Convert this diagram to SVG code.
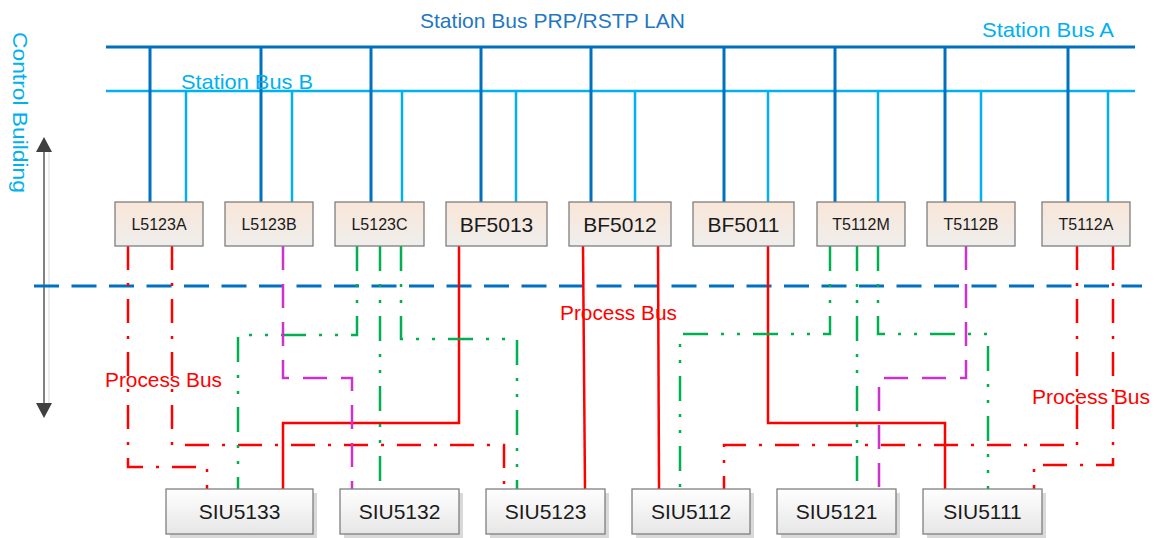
<svg xmlns="http://www.w3.org/2000/svg" width="1158" height="538" viewBox="0 0 1158 538">
<style>
.t{font-family:"Liberation Sans",Arial,sans-serif}
.busA{stroke:#0070C0;stroke-width:3;fill:none}
.busB{stroke:#00B0F0;stroke-width:2.5;fill:none}
.lan{stroke:#0070C0;stroke-width:3;fill:none;stroke-dasharray:25 12.5}
.rdd{stroke:#FF0000;stroke-width:2.5;fill:none;stroke-dasharray:24 13 3 13}
.rs{stroke:#FF0000;stroke-width:2.5;fill:none}
.gdd{stroke:#00B050;stroke-width:2.5;fill:none;stroke-dasharray:25 13 3 13 3 13}
.md{stroke:#CC33CC;stroke-width:2.5;fill:none;stroke-dasharray:24 14}
.ied rect{fill:url(#gI);stroke:#7F7F7F;stroke-width:1.3}
.siu rect.b{fill:url(#gS);stroke:#7F7F7F;stroke-width:1.3}
.siu rect.sh{fill:#D9D9D9;stroke:none}
.lbl{fill:#1A1A1A;text-anchor:middle}
.pb{fill:#FF0000;font-size:20px}
</style>
<defs>
<linearGradient id="gI" x1="0" y1="0" x2="0" y2="1"><stop offset="0" stop-color="#F9E6D8"/><stop offset="1" stop-color="#EFEEEC"/></linearGradient>
<linearGradient id="gS" x1="0" y1="0" x2="0" y2="1"><stop offset="0" stop-color="#FFFFFF"/><stop offset="1" stop-color="#E6E6E6"/></linearGradient>
</defs>

<!-- labels -->
<text class="t" x="420" y="28" font-size="21" fill="#1F78C1" textLength="265" lengthAdjust="spacingAndGlyphs">Station Bus PRP/RSTP LAN</text>
<text class="t" x="982" y="37" font-size="21" fill="#00B0F0" textLength="132" lengthAdjust="spacingAndGlyphs">Station Bus A</text>
<text class="t" transform="translate(13,32) rotate(90)" x="0" y="0" font-size="21" fill="#00B0F0" textLength="161" lengthAdjust="spacingAndGlyphs">Control Building</text>

<!-- vertical arrow -->
<g id="arrow">
<line x1="49" y1="150" x2="49" y2="405" stroke="#E6E6E6" stroke-width="1.5"/>
<line x1="44" y1="150" x2="44" y2="405" stroke="#595959" stroke-width="1.5"/>
<polygon points="44,137 36,152 52,152" fill="#404040"/>
<polygon points="44,418 36,403 52,403" fill="#404040"/>
</g>

<g id="connectors">
<!-- station buses -->
<line class="busA" x1="106" y1="47" x2="1135" y2="47"/>
<line class="busB" x1="106" y1="91" x2="1135" y2="91"/>
<path class="busA" d="M150 47V202M261 47V202M371 47V202M481 47V202M591 47V202M724 47V202M835 47V202M945 47V202M1068 47V202"/>
<path class="busB" d="M186 91V202M292 91V202M402 91V202M516 91V202M635 91V202M768 91V202M878 91V202M981 91V202M1108 91V202"/>
<!-- process bus dashed -->
<line class="lan" x1="34" y1="286" x2="1142" y2="286"/>
<!-- red dash-dot -->
<polyline class="rdd" points="128,246 128,467 207,467 207,489"/>
<polyline class="rdd" points="172,246 172,445 504,445 504,489"/>
<polyline class="rdd" points="1077,246 1077,445 724,445 724,489"/>
<polyline class="rdd" points="1113,246 1113,465 1034,465 1034,489"/>
<!-- red solid -->
<polyline class="rs" points="459,246 459,423 283,423 283,489"/>
<line class="rs" x1="583" y1="246" x2="585" y2="489"/>
<line class="rs" x1="658" y1="246" x2="659" y2="489"/>
<polyline class="rs" points="768,246 768,423 945,423 945,489"/>
<!-- green dash-dot-dot -->
<polyline class="gdd" points="357,246 357,335 238,335 238,489"/>
<line class="gdd" x1="380" y1="246" x2="380" y2="489"/>
<polyline class="gdd" points="401,246 401,339 517,339 517,489"/>
<polyline class="gdd" points="830,246 830,334 680,334 680,489"/>
<line class="gdd" x1="857" y1="246" x2="857" y2="489"/>
<polyline class="gdd" points="878,246 878,334 988,334 988,489"/>
<!-- magenta dashed -->
<polyline class="md" points="283,246 283,378 352,378 352,489"/>
<polyline class="md" points="966,246 966,378 879,378 879,489"/>
</g>

<text class="t" x="181" y="89" font-size="21" fill="#00B0F0" textLength="132" lengthAdjust="spacingAndGlyphs">Station Bus B</text>
<text class="t pb" x="105" y="387" textLength="117" lengthAdjust="spacingAndGlyphs">Process Bus</text>
<text class="t pb" x="560" y="320" textLength="117" lengthAdjust="spacingAndGlyphs">Process Bus</text>
<text class="t pb" x="1032" y="404" textLength="118" lengthAdjust="spacingAndGlyphs">Process Bus</text>

<!-- IED nodes -->
<g id="L5123A" class="ied"><rect x="115" y="202" width="88" height="44"/><text class="t lbl" x="159" y="230" font-size="16">L5123A</text></g>
<g id="L5123B" class="ied"><rect x="225" y="202" width="88" height="44"/><text class="t lbl" x="269" y="230" font-size="16">L5123B</text></g>
<g id="L5123C" class="ied"><rect x="335" y="202" width="89" height="44"/><text class="t lbl" x="379.5" y="230" font-size="16">L5123C</text></g>
<g id="BF5013" class="ied"><rect x="446" y="202" width="101" height="44"/><text class="t lbl" x="496.5" y="231.5" font-size="21">BF5013</text></g>
<g id="BF5012" class="ied"><rect x="569" y="202" width="102" height="44"/><text class="t lbl" x="620" y="231.5" font-size="21">BF5012</text></g>
<g id="BF5011" class="ied"><rect x="693" y="202" width="101" height="44"/><text class="t lbl" x="743.5" y="231.5" font-size="21">BF5011</text></g>
<g id="T5112M" class="ied"><rect x="817" y="202" width="88" height="44"/><text class="t lbl" x="861" y="230" font-size="16">T5112M</text></g>
<g id="T5112B" class="ied"><rect x="927" y="202" width="88" height="44"/><text class="t lbl" x="971" y="230" font-size="16">T5112B</text></g>
<g id="T5112A" class="ied"><rect x="1042" y="202" width="88" height="44"/><text class="t lbl" x="1086" y="230" font-size="16">T5112A</text></g>

<!-- SIU nodes -->
<g id="SIU5133" class="siu"><rect class="sh" x="170" y="493" width="147" height="45"/><rect class="b" x="166" y="489" width="147" height="45"/><text class="t lbl" x="239.5" y="519" font-size="21">SIU5133</text></g>
<g id="SIU5132" class="siu"><rect class="sh" x="344" y="493" width="119" height="45"/><rect class="b" x="340" y="489" width="119" height="45"/><text class="t lbl" x="399.5" y="519" font-size="21">SIU5132</text></g>
<g id="SIU5123" class="siu"><rect class="sh" x="490" y="493" width="119" height="45"/><rect class="b" x="486" y="489" width="119" height="45"/><text class="t lbl" x="545.5" y="519" font-size="21">SIU5123</text></g>
<g id="SIU5112" class="siu"><rect class="sh" x="636" y="493" width="118" height="45"/><rect class="b" x="632" y="489" width="118" height="45"/><text class="t lbl" x="691" y="519" font-size="21">SIU5112</text></g>
<g id="SIU5121" class="siu"><rect class="sh" x="781" y="493" width="119" height="45"/><rect class="b" x="777" y="489" width="119" height="45"/><text class="t lbl" x="836.5" y="519" font-size="21">SIU5121</text></g>
<g id="SIU5111" class="siu"><rect class="sh" x="927" y="493" width="119" height="45"/><rect class="b" x="923" y="489" width="119" height="45"/><text class="t lbl" x="982.5" y="519" font-size="21">SIU5111</text></g>
</svg>
